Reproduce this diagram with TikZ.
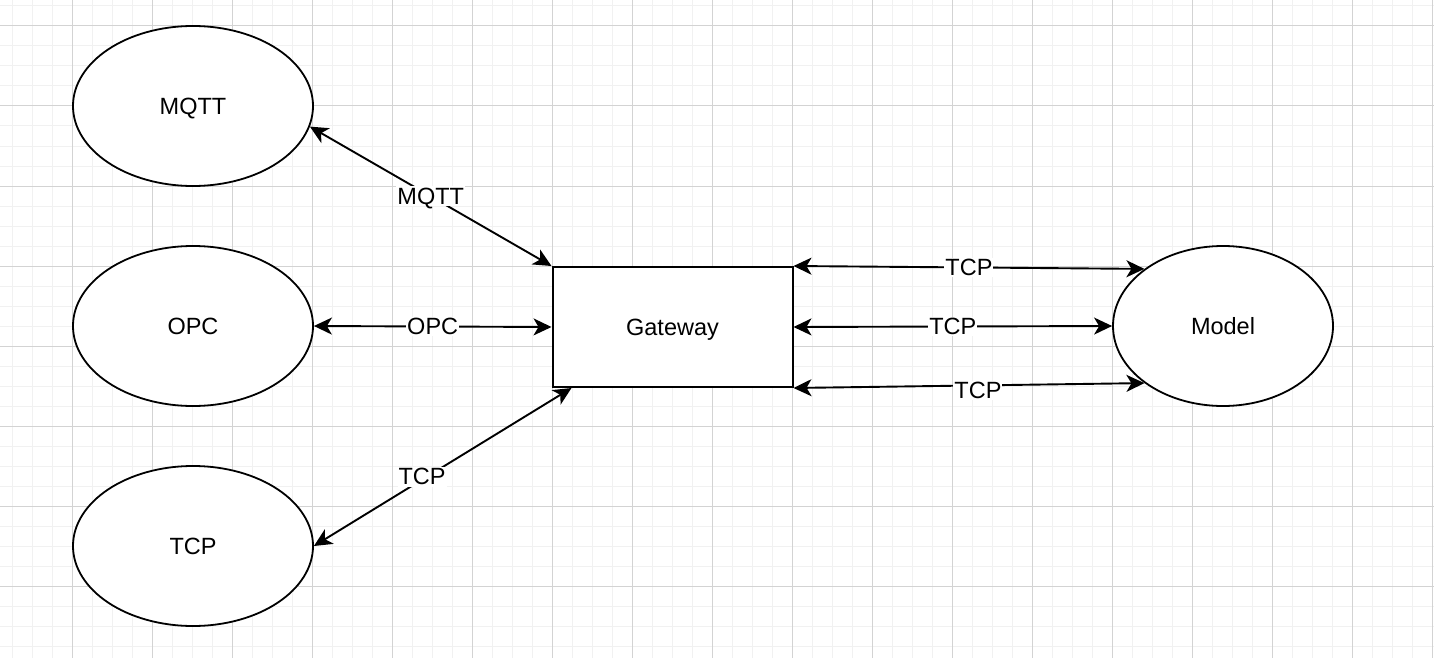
\documentclass[tikz,border=0pt]{standalone}
\usepackage{fontspec}
\setmainfont{Liberation Sans}
\usetikzlibrary{shapes.geometric,arrows.meta}
\definecolor{minorgrid}{HTML}{F1F1F1}
\definecolor{majorgrid}{HTML}{D3D3D3}
\begin{document}
\begin{tikzpicture}[x=1pt,y=-1pt,
  txt/.style={font=\fontsize{23.5}{28}\selectfont},
  ell/.style={draw,ellipse,line width=1.8pt,minimum width=240pt,minimum height=160pt,inner sep=0pt,fill=white,txt,text height=16.8pt,text depth=0pt},
  box/.style={draw,rectangle,line width=2pt,minimum width=240pt,minimum height=120pt,inner sep=0pt,fill=white,txt,text height=16.8pt,text depth=0pt},
  link/.style={line width=1.9pt,{Stealth[length=18pt,width=17pt,inset=5pt]}-{Stealth[length=18pt,width=17pt,inset=5pt]}},
  lbl/.style={fill=white,inner sep=1pt,txt,text height=16.8pt,text depth=1pt}]
\useasboundingbox (0,0) rectangle (1434,658);
\fill[white] (0,0) rectangle (1434,658);
\foreach \x in {12,32,...,1432} \draw[minorgrid,line width=1pt] (\x,0) -- (\x,658);
\foreach \y in {6,26,...,646} \draw[minorgrid,line width=1pt] (0,\y) -- (1434,\y);
\foreach \x in {72,152,...,1432} \draw[majorgrid,line width=1pt] (\x,0) -- (\x,658);
\foreach \y in {26,106,...,586} \draw[majorgrid,line width=1pt] (0,\y) -- (1434,\y);

\node[ell] (mqtt) at (193,106) {MQTT};
\node[ell] (opc) at (193,326) {OPC};
\node[ell] (tcp) at (193,546) {TCP};
\node[box] (gw) at (672.5,327) {Gateway};
\node[ell,minimum width=220pt] (model) at (1223,326) {Model};

\draw[link] (mqtt.-10) -- (gw.north west) node[lbl,pos=0.5] {MQTT};
\draw[link] (opc.east) -- (gw.west) node[lbl,midway] {OPC};
\draw[link] (tcp.east) -- ([xshift=20pt]gw.south west) node[lbl,pos=0.42,yshift=3pt] {TCP};
\draw[link] (gw.north east) -- (model.144) node[lbl,midway] {TCP};
\draw[link] (gw.east) -- (model.west) node[lbl,midway] {TCP};
\draw[link] (gw.south east) -- (model.216) node[lbl,midway,xshift=9pt,yshift=-5pt] {TCP};
\end{tikzpicture}
\end{document}
